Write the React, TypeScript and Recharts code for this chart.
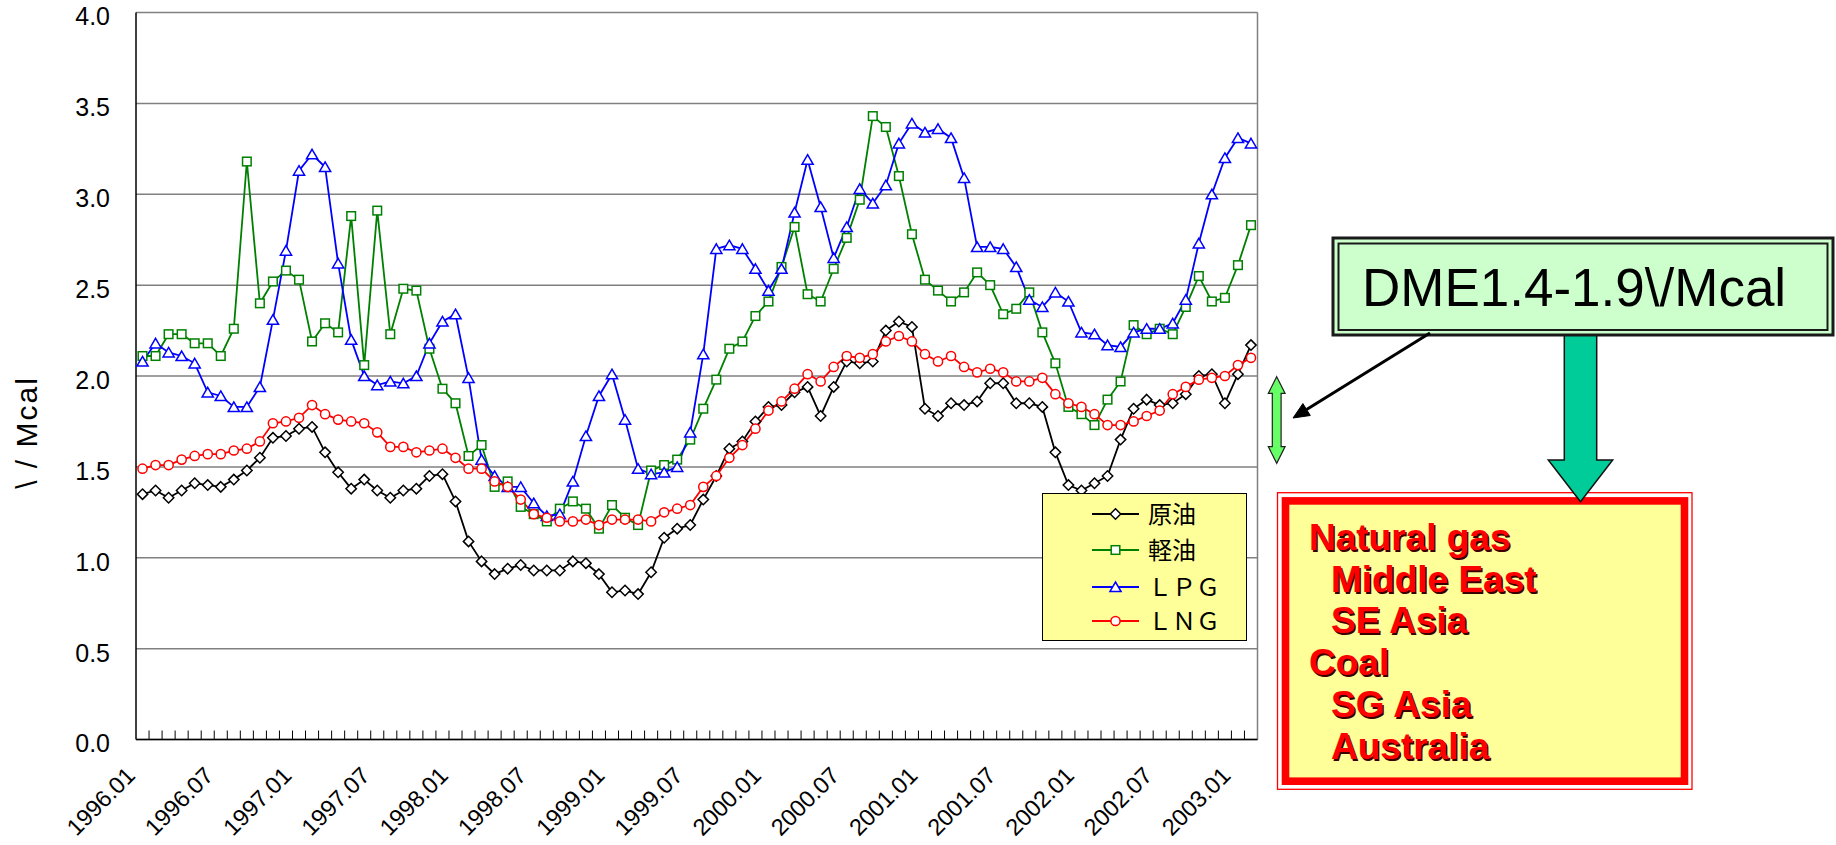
import React from 'react';
import { LineChart, Line, XAxis, YAxis, CartesianGrid, Legend, ReferenceLine } from 'recharts';

// monthly, 1996.01 .. 2003.02
const months = Array.from({ length: 86 }, (_, i) => `${1996 + Math.floor(i / 12)}.${String((i % 12) + 1).padStart(2, '0')}`);

const tickLabels = [
  '1996.01', '1996.07', '1997.01', '1997.07', '1998.01', '1998.07', '1999.01', '1999.07',
  '2000.01', '2000.07', '2001.01', '2001.07', '2002.01', '2002.07', '2003.01',
];

const yTicks = [0, 0.5, 1, 1.5, 2, 2.5, 3, 3.5, 4];

// 原油
const crude = [
  1.35, 1.37, 1.33, 1.37, 1.41, 1.40, 1.39, 1.43, 1.48, 1.55, 1.66, 1.67, 1.71, 1.72, 1.58, 1.47, 1.38, 1.43, 1.37, 1.33, 1.37, 1.38, 1.45,
  1.46, 1.31, 1.09, 0.98, 0.91, 0.94, 0.96, 0.93, 0.93, 0.93, 0.98, 0.97, 0.91, 0.81, 0.82, 0.80, 0.92, 1.11, 1.16, 1.18, 1.32, 1.45,
  1.60, 1.64, 1.75, 1.83, 1.84, 1.91, 1.94, 1.78, 1.94, 2.08, 2.07, 2.08, 2.25, 2.30, 2.27, 1.82, 1.78, 1.85, 1.84, 1.86, 1.96, 1.96,
  1.85, 1.85, 1.83, 1.58, 1.40, 1.37, 1.41, 1.45, 1.65, 1.82, 1.87, 1.84, 1.85, 1.90, 2.00, 2.01, 1.85, 2.01, 2.17,
];

// 軽油
const diesel = [
  2.11, 2.11, 2.23, 2.23, 2.18, 2.18, 2.11, 2.26, 3.18, 2.40, 2.52, 2.58, 2.53, 2.19, 2.29, 2.24, 2.88, 2.06, 2.91, 2.23, 2.48, 2.47, 2.15,
  1.93, 1.85, 1.56, 1.62, 1.39, 1.42, 1.28, 1.24, 1.20, 1.27, 1.31, 1.27, 1.16, 1.29, 1.22, 1.18, 1.48, 1.51, 1.54, 1.65, 1.82, 1.98,
  2.15, 2.19, 2.33, 2.41, 2.60, 2.82, 2.45, 2.41, 2.59, 2.76, 2.97, 3.43, 3.37, 3.10, 2.78, 2.53, 2.47, 2.41, 2.46, 2.57, 2.50, 2.34,
  2.37, 2.46, 2.24, 2.07, 1.83, 1.79, 1.73, 1.87, 1.97, 2.28, 2.23, 2.26, 2.23, 2.38, 2.55, 2.41, 2.43, 2.61, 2.83,
];

// ＬＰＧ
const lpg = [
  2.08, 2.18, 2.13, 2.11, 2.07, 1.91, 1.89, 1.83, 1.83, 1.94, 2.31, 2.69, 3.13, 3.22, 3.15, 2.62, 2.20, 2.00, 1.95, 1.97, 1.96, 2.00, 2.18,
  2.30, 2.34, 1.99, 1.54, 1.45, 1.39, 1.39, 1.30, 1.23, 1.24, 1.42, 1.67, 1.89, 2.01, 1.76, 1.49, 1.46, 1.47, 1.50, 1.69, 2.12, 2.70,
  2.72, 2.70, 2.59, 2.47, 2.59, 2.90, 3.19, 2.93, 2.65, 2.82, 3.03, 2.95, 3.05, 3.28, 3.39, 3.34, 3.36, 3.31, 3.09, 2.71, 2.71, 2.70,
  2.60, 2.42, 2.38, 2.46, 2.41, 2.24, 2.23, 2.17, 2.16, 2.24, 2.26, 2.26, 2.29, 2.42, 2.73, 3.00, 3.20, 3.31, 3.28,
];

// ＬＮＧ
const lng = [
  1.49, 1.51, 1.51, 1.54, 1.56, 1.57, 1.57, 1.59, 1.60, 1.64, 1.74, 1.75, 1.77, 1.84, 1.79, 1.76, 1.75, 1.74, 1.69, 1.61, 1.61, 1.58, 1.59,
  1.60, 1.55, 1.49, 1.49, 1.42, 1.39, 1.32, 1.24, 1.22, 1.20, 1.20, 1.21, 1.18, 1.21, 1.21, 1.21, 1.20, 1.25, 1.27, 1.29, 1.39, 1.45,
  1.55, 1.62, 1.71, 1.81, 1.86, 1.93, 2.01, 1.97, 2.05, 2.11, 2.10, 2.12, 2.19, 2.22, 2.19, 2.12, 2.08, 2.11, 2.05, 2.02, 2.04, 2.02,
  1.97, 1.97, 1.99, 1.90, 1.85, 1.83, 1.79, 1.73, 1.73, 1.75, 1.78, 1.81, 1.90, 1.94, 1.98, 1.99, 2.00, 2.06, 2.10,
];

const data = months.map((m, i) => ({ idx: i, month: m, crude: crude[i], diesel: diesel[i], lpg: lpg[i], lng: lng[i] }));

const labelTicks = tickLabels.map((l) => months.indexOf(l));
const boundaryTicks = months.slice(1).map((_, i) => i + 0.5);
const xTicks = [...boundaryTicks, ...labelTicks].sort((a, b) => a - b);

const series = [
  { key: 'crude', name: '原油', color: '#000000', marker: 'diamond' },
  { key: 'diesel', name: '軽油', color: '#008000', marker: 'square' },
  { key: 'lpg', name: 'ＬＰＧ', color: '#0000FF', marker: 'triangle' },
  { key: 'lng', name: 'ＬＮＧ', color: '#FF0000', marker: 'circle' },
];

const FONT = "'Liberation Sans', Arial, sans-serif";
const CJK = "'Noto Sans CJK JP', 'Liberation Sans', sans-serif";

function drawMarker(kind: string, color: string, cx: number, cy: number, key?: string) {
  const common = { fill: '#fff', stroke: color, strokeWidth: 1.5, key };
  if (kind === 'diamond') {
    const r = 5.2;
    return <path {...common} d={`M${cx},${cy - r}L${cx + r},${cy}L${cx},${cy + r}L${cx - r},${cy}Z`} />;
  }
  if (kind === 'square') {
    return <rect {...common} x={cx - 4.3} y={cy - 4.3} width={8.6} height={8.6} />;
  }
  if (kind === 'triangle') {
    return <path {...common} d={`M${cx},${cy - 5}L${cx + 5.6},${cy + 4.6}L${cx - 5.6},${cy + 4.6}Z`} />;
  }
  return <circle {...common} cx={cx} cy={cy} r={4.6} />;
}

const makeDot = (kind: string, color: string) => (props: any) => {
  const { cx, cy, index } = props;
  if (cx == null || cy == null) return <g key={`e-${index}`} />;
  return drawMarker(kind, color, cx, cy, `${kind}-${index}`);
};

const XTick = (props: any) => {
  const { x, y, payload } = props;
  const v = payload.value;
  if (Number.isInteger(v)) {
    const ax = x - 6;
    const ay = y + 37.5;
    return (
      <text x={ax} y={ay} textAnchor="end" transform={`rotate(-45 ${ax} ${ay})`} fontSize={23.5} fontFamily={FONT} fill="#000">
        {months[v]}
      </text>
    );
  }
  return <line x1={x} y1={y} x2={x} y2={y - 9} stroke="#000" strokeWidth={1} />;
};

const YTick = (props: any) => {
  const { x, y, payload } = props;
  return (
    <text x={x} y={y + 4} dy="0.355em" textAnchor="end" fontSize={25} fontFamily={FONT} fill="#000">
      {payload.value.toFixed(1)}
    </text>
  );
};

// legend keeps the series order (原油, 軽油, ＬＰＧ, ＬＮＧ)
const renderLegend = () => {
  const rows = [20, 56, 93, 127];
  return (
    <div style={{ width: 205, height: 148, boxSizing: 'border-box', background: '#FFFF99', border: '1px solid #000' }}>
      <svg width={203} height={146} style={{ display: 'block' }}>
        {series.map((s, i) => {
          const cy = rows[i];
          return (
            <g key={s.key}>
              <line x1={49} y1={cy} x2={96} y2={cy} stroke={s.color} strokeWidth={1.8} />
              {drawMarker(s.marker, s.color, 72.5, cy)}
              <text x={105} y={cy} dy="0.36em" fontSize={24} fontFamily={CJK} fill="#000">
                {s.name}
              </text>
            </g>
          );
        })}
      </svg>
    </div>
  );
};

const boxLines = [
  { text: 'Natural gas', x: 1309, y: 550 },
  { text: 'Middle East', x: 1331, y: 592 },
  { text: 'SE Asia', x: 1331, y: 633 },
  { text: 'Coal', x: 1309, y: 675 },
  { text: 'SG Asia', x: 1331, y: 717 },
  { text: 'Australia', x: 1331, y: 759 },
];

function Annotations() {
  const ax = 1276.7;
  const top = 376.7;
  const bot = 463.3;
  const dbl = [
    [ax, top], [ax + 8.4, top + 16.7], [ax + 4.4, top + 16.7], [ax + 4.4, bot - 16.7], [ax + 8.4, bot - 16.7],
    [ax, bot], [ax - 8.4, bot - 16.7], [ax - 4.4, bot - 16.7], [ax - 4.4, top + 16.7], [ax - 8.4, top + 16.7],
  ].map((p) => p.join(',')).join(' ');
  const teal = [
    [1564.3, 334], [1596.7, 334], [1596.7, 460], [1612.7, 460], [1580.5, 501.7], [1548.3, 460], [1564.3, 460],
  ].map((p) => p.join(',')).join(' ');
  return (
    <svg width={1836} height={845} style={{ position: 'absolute', left: 0, top: 0, pointerEvents: 'none' }}>
      {/* yellow box */}
      <rect x={1277.5} y={492.7} width={414.5} height={296.6} fill="#fff" stroke="#FF0000" strokeWidth={1.3} />
      <rect x={1285.5} y={500.9} width={399} height={280.3} fill="#FFFF99" stroke="#FF0000" strokeWidth={7.6} />
      {boxLines.map((l) => (
        <g key={l.text} fontFamily={FONT} fontWeight="bold" fontSize={37}>
          <text x={l.x + 1.6} y={l.y + 1.6} fill="#3a0000">{l.text}</text>
          <text x={l.x} y={l.y} fill="#FF0000">{l.text}</text>
        </g>
      ))}
      {/* big arrow */}
      <polygon points={teal} fill="#00CC99" stroke="#111" strokeWidth={1.5} strokeLinejoin="miter" />
      {/* DME box */}
      <rect x={1333} y={238} width={500} height={97} fill="#CCFFCC" stroke="#1a1a1a" strokeWidth={3} />
      <rect x={1338.5} y={243.5} width={489} height={86.5} fill="none" stroke="#1a1a1a" strokeWidth={2} />
      <text x={1362} y={306} fontSize={53} fontFamily={FONT} fill="#000">{'DME1.4-1.9\\/Mcal'}</text>
      {/* pointer arrow */}
      <line x1={1430} y1={333} x2={1306.6} y2={409.6} stroke="#000" strokeWidth={3} />
      <polygon points="1293,418 1310.3,415.5 1302.9,403.6" fill="#000" stroke="#000" strokeWidth={1} />
      {/* range marker */}
      <polygon points={dbl} fill="#66FF66" stroke="#222" strokeWidth={1.2} />
    </svg>
  );
}

export default function App() {
  return (
    <div style={{ position: 'absolute', left: 0, top: 0, width: 1836, height: 845, background: '#fff', fontFamily: FONT }}>
      <LineChart width={1836} height={845} data={data} margin={{ top: 12.5, right: 578.5, bottom: 75.5, left: 0 }}>
        <CartesianGrid vertical={false} stroke="#808080" strokeWidth={1.5} />
        <XAxis
          type="number"
          dataKey="idx"
          domain={[-0.5, 85.5]}
          ticks={xTicks}
          interval={0}
          height={30}
          tickSize={0}
          tickMargin={0}
          tickLine={false}
          tick={<XTick />}
          axisLine={{ stroke: '#000', strokeWidth: 1.5 }}
        />
        <YAxis
          type="number"
          domain={[0, 4]}
          ticks={yTicks}
          interval={0}
          width={136}
          tickSize={0}
          tickMargin={26}
          tickLine={false}
          tick={<YTick />}
          axisLine={{ stroke: '#000', strokeWidth: 1.5 }}
          label={() => (
            <text x={36.7} y={432.5} transform="rotate(-90 36.7 432.5)" textAnchor="middle" fontSize={30} letterSpacing={2} fontFamily={FONT} fill="#000">
              {'\\ / Mcal'}
            </text>
          )}
        />
        <ReferenceLine x={85.5} stroke="#808080" strokeWidth={1.5} />
        {series.map((s) => (
          <Line
            key={s.key}
            type="linear"
            dataKey={s.key}
            name={s.name}
            stroke={s.color}
            strokeWidth={1.8}
            dot={makeDot(s.marker, s.color)}
            activeDot={false}
            isAnimationActive={false}
          />
        ))}
        <Legend
          layout="vertical"
          align="center"
          verticalAlign="middle"
          wrapperStyle={{ left: 1042, top: 493, width: 205, height: 148 }}
          content={renderLegend}
        />
      </LineChart>
      <Annotations />
    </div>
  );
}
